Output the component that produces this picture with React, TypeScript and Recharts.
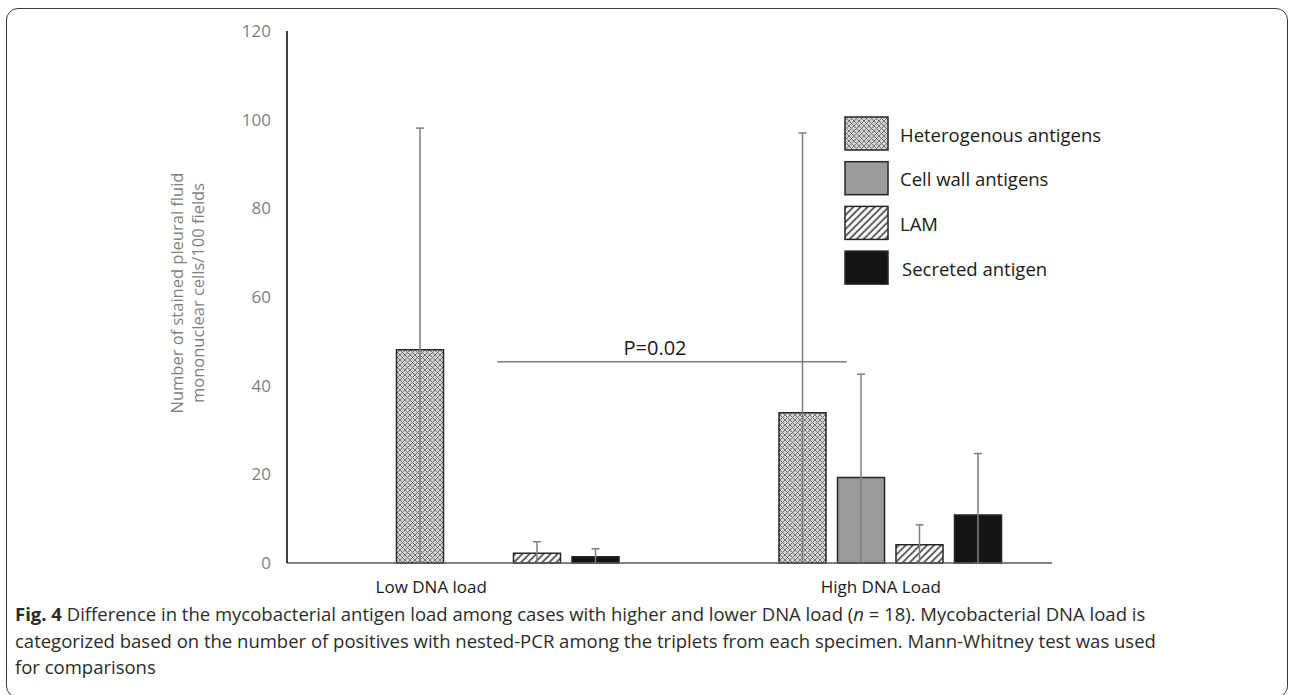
import { BarChart, Bar, XAxis, YAxis, ErrorBar, Legend, ReferenceLine } from 'recharts';

const categories = ['Low DNA load', 'High DNA Load'];
const seriesNames = ['Heterogenous antigens', 'Cell wall antigens', 'LAM', 'Secreted antigen'];

// means
const heterogenous = [48.1, 33.9];
const cellWall = [0, 19.3];
const lam = [2.2, 4.1];
const secreted = [1.4, 10.8];

// upper whiskers (SD)
const heterogenousSd = [50.0, 63.1];
const cellWallSd = [0, 23.3];
const lamSd = [2.6, 4.5];
const secretedSd = [1.8, 13.9];

const yTicks = [0, 20, 40, 60, 80, 100, 120];
const pValue = 'P=0.02';
const pLineLevel = 45.4;

// whisker goes down only as far as the axis (Excel clips it there)
const err = (v: number, sd: number) => [Math.min(v, sd), sd];

const data = categories.map((name, i) => ({
  name,
  het: heterogenous[i],
  cell: cellWall[i],
  lam: lam[i],
  sec: secreted[i],
  hetErr: err(heterogenous[i], heterogenousSd[i]),
  cellErr: err(cellWall[i], cellWallSd[i]),
  lamErr: err(lam[i], lamSd[i]),
  secErr: err(secreted[i], secretedSd[i]),
}));

const FONT = "'Open Sans', sans-serif";
const BAR_STROKE = '#262626';
const ERR_STROKE = '#7f7f7f';
const TICK_SHIFT = [-47, 20];

function Patterns() {
  return (
    <svg width={0} height={0} style={{ position: 'absolute' }}>
      <defs>
        <pattern id="pat-het" width={5} height={5} patternUnits="userSpaceOnUse">
          <rect width={5} height={5} fill="#d4d4d4" />
          <path d="M0,0 L5,5 M5,0 L0,5" stroke="#6a6a6a" strokeWidth={0.9} />
        </pattern>
        <pattern
          id="pat-lam"
          width={5}
          height={5}
          patternUnits="userSpaceOnUse"
          patternTransform="rotate(45)"
        >
          <rect width={5} height={5} fill="#ffffff" />
          <line x1={1} y1={0} x2={1} y2={5} stroke="#3a3a3a" strokeWidth={1.6} />
        </pattern>
      </defs>
    </svg>
  );
}

function XTick(props: any) {
  const { x, y, payload, index } = props;
  return (
    <text
      x={x + (TICK_SHIFT[index] ?? 0)}
      y={y}
      dy={28}
      textAnchor="middle"
      fill="#1a1a1a"
      fontSize={17}
      fontFamily={FONT}
    >
      {payload.value}
    </text>
  );
}

function YTitle(props: any) {
  const { x, y, height } = props.viewBox;
  const cy = y + height / 2 - 4;
  const lines = ['Number of stained pleural fluid', 'mononuclear cells/100 fields'];
  return (
    <g>
      {lines.map((t, i) => {
        const cx = x - 51 + i * 21;
        return (
          <text
            key={t}
            x={cx}
            y={cy}
            transform={`rotate(-90 ${cx} ${cy})`}
            textAnchor="middle"
            dominantBaseline="central"
            fill="#7f7f7f"
            fontSize={16.5}
            fontFamily={FONT}
          >
            {t}
          </text>
        );
      })}
    </g>
  );
}

function LegendBox(props: any) {
  const items = (props.payload || [])
    .filter((p: any) => p.type !== 'none')
    .sort((a: any, b: any) => seriesNames.indexOf(a.value) - seriesNames.indexOf(b.value));
  return (
    <svg width={320} height={180}>
      {items.map((p: any, i: number) => {
        const top = i * 44.7;
        return (
          <g key={p.value}>
            <rect x={1} y={top + 1} width={43} height={33} fill={p.color} stroke={BAR_STROKE} strokeWidth={1.5} />
            <text
              x={i === 3 ? 58 : 56}
              y={top + 18}
              dominantBaseline="central"
              fill="#1a1a1a"
              fontSize={18.5}
              fontFamily={FONT}
            >
              {p.value}
            </text>
          </g>
        );
      })}
    </svg>
  );
}

function PLine(props: any) {
  const { x1, x2, y1 } = props;
  const a = x1 + 19;
  const b = x2 - 14;
  return (
    <g>
      <line x1={a} y1={y1} x2={b} y2={y1} stroke={ERR_STROKE} strokeWidth={1.5} />
      <text
        x={(a + b) / 2 - 17}
        y={y1 - 7}
        textAnchor="middle"
        fill="#1a1a1a"
        fontSize={20}
        fontFamily={FONT}
      >
        {pValue}
      </text>
    </g>
  );
}

export default function App() {
  return (
    <div
      style={{
        position: 'absolute',
        left: 0,
        top: 0,
        width: 1292,
        height: 695,
        overflow: 'hidden',
        background: '#fff',
        fontFamily: FONT,
      }}
    >
      <Patterns />
      {/* rounded figure frame */}
      <div
        style={{
          position: 'absolute',
          left: 6,
          top: 8,
          width: 1280,
          height: 688,
          border: '1.5px solid #3a3a3a',
          borderRadius: 12,
        }}
      />
      <div style={{ position: 'absolute', left: 0, top: 0 }}>
        <BarChart
          width={1292}
          height={600}
          data={data}
          margin={{ top: 31, right: 240, bottom: 7, left: 227 }}
          barSize={47}
          barGap={11.5}
        >
          <XAxis
            dataKey="name"
            height={30}
            axisLine={{ stroke: '#595959', strokeWidth: 1.5 }}
            tickLine={false}
            tickSize={0}
            tick={<XTick />}
          />
          <YAxis
            width={60}
            domain={[0, 120]}
            ticks={yTicks}
            interval={0}
            axisLine={{ stroke: '#000', strokeWidth: 1.5 }}
            tickLine={false}
            tickSize={0}
            tickMargin={16}
            tick={{ fill: '#7f7f7f', fontSize: 17, fontFamily: FONT }}
            label={{ content: <YTitle /> }}
          />
          <Legend
            layout="vertical"
            align="center"
            verticalAlign="middle"
            content={<LegendBox />}
            wrapperStyle={{ position: 'absolute', left: 844, top: 116, width: 320, height: 180 }}
          />
          {/* empty first series: Excel left a blank slot in each group */}
          <Bar dataKey="spacer" fill="none" legendType="none" isAnimationActive={false} />
          <Bar dataKey="het" name={seriesNames[0]} fill="url(#pat-het)" stroke={BAR_STROKE} strokeWidth={1.5} isAnimationActive={false}>
            <ErrorBar dataKey="hetErr" width={4} stroke={ERR_STROKE} strokeWidth={1.5} />
          </Bar>
          <Bar dataKey="cell" name={seriesNames[1]} fill="#9b9b9b" stroke={BAR_STROKE} strokeWidth={1.5} isAnimationActive={false}>
            <ErrorBar dataKey="cellErr" width={4} stroke={ERR_STROKE} strokeWidth={1.5} />
          </Bar>
          <Bar dataKey="lam" name={seriesNames[2]} fill="url(#pat-lam)" stroke={BAR_STROKE} strokeWidth={1.5} isAnimationActive={false}>
            <ErrorBar dataKey="lamErr" width={4} stroke={ERR_STROKE} strokeWidth={1.5} />
          </Bar>
          <Bar dataKey="sec" name={seriesNames[3]} fill="#141414" stroke={BAR_STROKE} strokeWidth={1.5} isAnimationActive={false}>
            <ErrorBar dataKey="secErr" width={4} stroke={ERR_STROKE} strokeWidth={1.5} />
          </Bar>
          <ReferenceLine
            segment={[
              { x: categories[0], y: pLineLevel },
              { x: categories[1], y: pLineLevel },
            ]}
            shape={<PLine />}
          />
        </BarChart>
      </div>
      {/* figure caption */}
      <div
        style={{
          position: 'absolute',
          left: 15,
          top: 601,
          width: 1270,
          fontSize: 18.5,
          lineHeight: '26.5px',
          color: '#2b2b2b',
          fontFamily: FONT,
          whiteSpace: 'nowrap',
        }}
      >
        <div>
          <b>Fig. 4</b> Difference in the mycobacterial antigen load among cases with higher and lower DNA load (
          <i>n</i> = 18). Mycobacterial DNA load is
        </div>
        <div>
          categorized based on the number of positives with nested-PCR among the triplets from each specimen. Mann-Whitney test was used
        </div>
        <div>for comparisons</div>
      </div>
    </div>
  );
}
